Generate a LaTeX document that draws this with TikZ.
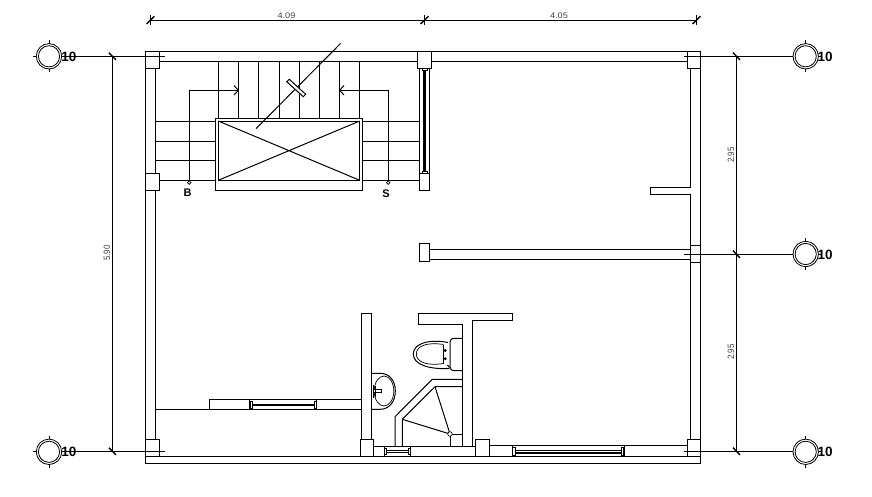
\documentclass[tikz,border=0pt]{standalone}
\usepackage{fontspec}
\setmainfont{Liberation Sans}
\usetikzlibrary{arrows.meta}
\definecolor{dimgray}{gray}{0.25}
\tikzset{
  ln/.style={line width=1pt,black},
  thin ln/.style={line width=0.7pt,black},
  tickmark/.style={line width=1.4pt,black},
  rail/.style={line width=2pt,black},
  dimtext/.style={font=\fontsize{8}{9}\selectfont,inner sep=0pt,text=dimgray,xscale=1.15},
  dimtextv/.style={font=\fontsize{8}{9}\selectfont,inner sep=0pt,text=dimgray,rotate=90,yscale=1.15},
  gridtext/.style={font=\fontsize{13.5}{14}\selectfont\bfseries,inner sep=0pt,black},
  stairtext/.style={font=\fontsize{11}{12}\selectfont\bfseries,inner sep=0pt,black},
  bubble/.pic={
    \draw[line width=0.8pt] (0,0) circle (12.7);
    \draw[line width=0.8pt] (0,0) circle (10.6);
    \draw[thin ln] (-16,0)--(-12.7,0) (12.7,0)--(16,0) (0,-16)--(0,-12.7) (0,12.7)--(0,16);
  }
}
\begin{document}
\begin{tikzpicture}[x=1pt,y=-1pt,ln]
\useasboundingbox (0,0) rectangle (872,496);
% dimension lines
\draw (150.5,20)--(696.5,20);
\draw (112.3,56.3)--(112.3,451.3);
\draw (736.3,56.3)--(736.3,451.3);
\foreach \x in {150.5,424.5,696.5}{\draw[tickmark] (\x-3.8,24)--(\x+3.8,16.2);\draw[thin ln] (\x,15)--(\x,25);}
\foreach \y in {56.3,451.3}{\draw[tickmark] (108.8,\y-3.6)--(116,\y+3.6);}
\foreach \y in {56.3,254.3,451.3}{\draw[tickmark] (733,\y-3.6)--(740,\y+3.6);}
\node[dimtext] (d1) at (286.5,15.5) {4.09};
\node[dimtext] (d2) at (559,15.5) {4.05};
\node[dimtextv] (d3) at (107,253) {5.90};
\node[dimtextv] (d4) at (731,155) {2.95};
\node[dimtextv] (d5) at (731,352) {2.95};
% grid axes
\draw (62,56.3)--(165,56.3) (62,451.3)--(165,451.3);
\draw (684.3,56.3)--(792,56.3) (684.3,254.3)--(792,254.3) (684.3,451.3)--(792,451.3);
\foreach \p in {(49,56.3),(49,451.8),(805.7,56.3),(805.7,254),(805.7,451.8)}{\path \p pic{bubble};}
\node[gridtext] (g1) at (68.8,57) {10};
\node[gridtext] (g2) at (68.8,452) {10};
\node[gridtext] (g3) at (825,57) {10};
\node[gridtext] (g4) at (825,255) {10};
\node[gridtext] (g5) at (825,452) {10};
% outer walls
\draw (145.3,51.3) rectangle (700.3,463.3);
\draw (159.7,61.7)--(417.3,61.7) (431.3,61.7)--(687.3,61.7);
\draw (145.3,456)--(700.3,456);
\draw (155.3,68.3)--(155.3,173.3) (155.3,190.3)--(155.3,439.3);
\draw (690.7,68.3)--(690.7,187.3) (690.7,194.3)--(690.7,245.7) (690.7,262.3)--(690.7,439.3);
% columns
\draw (145.3,51.3) rectangle (159.7,68.3);
\draw (145.3,173.3) rectangle (159.7,190.3);
\draw (145.3,439.3) rectangle (159.7,456);
\draw (417.3,51.3) rectangle (431.3,68.3);
\draw (419.3,173.3) rectangle (429.7,190.3);
\draw (687.3,51.3) rectangle (700.3,68.3);
\draw (690.7,245.7) rectangle (700.3,262.3);
\draw (687.3,439.3) rectangle (700.3,456);
\draw (360.3,439.3) rectangle (373.7,456);
\draw (475.3,439.3) rectangle (489.3,456);
\draw (419.3,243.3) rectangle (429.7,261);
% stair window
\draw (419.3,68.3)--(419.3,173.3) (429.7,68.3)--(429.7,173.3);
\draw (422.3,68.3) rectangle (427.3,70.5) (422.3,171) rectangle (427.3,173.3);
\draw[line width=2.6pt] (424.6,70.5)--(424.6,171);
% stairs
\foreach \x in {218.3,238.3,258.3,279.3,299.3,319.3,339.3,359.3}{\draw (\x,61.7)--(\x,118.3);}
\foreach \y in {121,141,160.3}{\draw (155.3,\y)--(215.7,\y) (362.7,\y)--(419.3,\y);}
\draw (159.7,180.3)--(215.7,180.3) (362.7,180.3)--(419.3,180.3);
\draw (215.7,118.3) rectangle (362.7,190.3);
\draw (218.3,121) rectangle (359.7,180.3);
\draw (218.3,121)--(359.7,180.3) (218.3,180.3)--(359.7,121);
% stair arrows
\coordinate (bp) at (189.3,182.6);
\coordinate (sp) at (388.3,182.6);
\draw (bp)++(0,-1.8)--(189.3,90.3)--(238,90.3);
\draw (sp)++(0,-1.8)--(388.3,90.3)--(339.6,90.3);
\draw (234,85.5)--(238.3,90.3)--(234,95);
\draw (344,85.5)--(339.6,90.3)--(344,95);
\draw[thin ln] (bp) circle (1.8) (sp) circle (1.8);
\node[stairtext] (lb) at (187.7,193) {B};
\node[stairtext] (ls) at (386,194) {S};
% break line
\draw (256,128.7)--(340.7,43.3);
\draw[fill=white] (286.7,81.7)--(289.3,79.3)--(305.7,94.3)--(303.3,96.7)--cycle;
% right stub and partition
\draw (690.7,187.3)--(650.3,187.3)--(650.3,194.3)--(690.7,194.3);
\draw (429.7,249.3)--(690.7,249.3) (429.7,259.3)--(690.7,259.3);
% lower left partition
\draw (155.3,409.3)--(361.3,409.3);
\draw (209.3,409.3)--(209.3,399)--(361.3,399);
\draw (249.3,399)--(249.3,409.3) (316.7,399)--(316.7,409.3);
\draw (250.3,401.5) rectangle (252.3,408) (314.3,401.5) rectangle (316.3,408);
\draw[rail] (252.3,405)--(314.3,405);
% bath walls
\draw (361.3,439.3)--(361.3,313.3)--(371.7,313.3)--(371.7,439.3);
\draw (462.3,446)--(462.3,324.3)--(418.3,324.3)--(418.3,313.3)--(512.7,313.3)--(512.7,320.7)--(472.3,320.7)--(472.3,446);
% bottom wall upper line and windows
\draw (373.7,446)--(475.3,446) (489.3,445.7)--(687.3,445.7);
\draw (384.3,446)--(384.3,456) (410.7,446)--(410.7,456);
\draw (384.3,448) rectangle (386.5,454) (408.5,448) rectangle (410.7,454);
\draw (386.5,450.3)--(408.5,450.3) (386.5,452.3)--(408.5,452.3);
\draw (512.5,445.7)--(512.5,456) (624,445.7)--(624,456);
\draw (512.7,447.5) rectangle (515,455) (621.5,447.5) rectangle (623.8,455);
\draw (515,450)--(621.5,450);
\draw[line width=1.2pt] (515,453)--(621.5,453);
% shower
\draw (462.3,379.3)--(432.3,379.3)--(395,416.7)--(395,446);
\draw (462.3,386.7)--(435,386.7)--(402.3,419.3)--(402.3,446);
\draw (435,386.7)--(450,434) (402.3,419.3)--(450,434);
\draw (450,436)--(450,446) (450,434.7)--(462.3,434.7);
\draw[thin ln,fill=white] (450,434) circle (2.3);
% toilet
\draw (462.3,338.3)--(455,338.3) .. controls (451.5,338.3) and (450,340) .. (450,342)--(450,367)
  .. controls (450,369) and (451.5,370.7) .. (455,370.7)--(462.3,370.7);
\draw (448,342.5) .. controls (430,339) and (413.3,343) .. (413.3,354) .. controls (413.3,365) and (430,369.5) .. (449.5,368.5);
\draw[thin ln] (443.3,344.5)--(443.3,363.5);
\draw[thin ln] (443.3,344.5) .. controls (428,342) and (416.3,345.5) .. (416.3,354) .. controls (416.3,362.5) and (428,366) .. (443.3,363.5);
\draw[line width=1.1pt] (444,350.5)--(446.5,350.5) (445.2,349.2)--(445.2,351.8) (444,358.7)--(446.5,358.7) (445.2,357.4)--(445.2,360) (447.5,365)--(449.5,367.5);
% sink
\draw (371.7,373.3)--(380,373.3) .. controls (389,373.3) and (395.3,380) .. (395.3,391) .. controls (395.3,402) and (389,409.3) .. (380,409.3)--(371.7,409.3);
\draw[thin ln] (384,391) ellipse (9.8 and 15);
\draw[thin ln,fill=white] (373,389.3) rectangle (381.7,392.7);
\draw[line width=1.2pt] (373.5,384.5)--(373.5,398) (375.8,385.5)--(375.8,397);
\end{tikzpicture}
\end{document}
